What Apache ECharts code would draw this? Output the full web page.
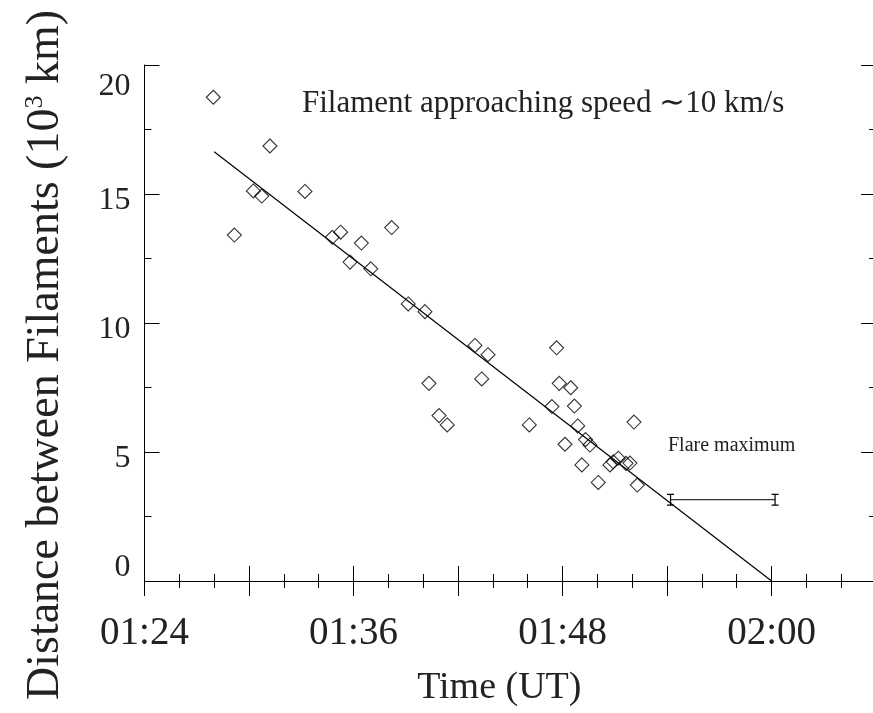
<!DOCTYPE html>
<html><head><meta charset="utf-8">
<script src="https://cdn.jsdelivr.net/npm/echarts@6/dist/echarts.min.js"></script>
<style>html,body{margin:0;padding:0;background:#fff}#c{width:873px;height:713px}</style>
</head><body><div id="c"></div>
<script>
// observation times, minutes after 01:00 UT
const obsTime = [27.95, 29.16, 30.25, 30.73, 31.20, 33.21, 34.78, 35.26, 35.80, 36.45,
  36.99, 38.19, 39.14, 40.10, 40.33, 40.91, 41.38, 42.97, 43.36, 43.72,
  46.09, 47.39, 47.66, 47.81, 48.14, 48.47, 48.68, 48.87, 49.11, 49.32,
  49.57, 50.05, 50.72, 50.91, 51.20, 51.64, 51.87, 52.10, 52.29];
// distance between filaments, 10^3 km
const obsDist = [18.75, 13.41, 15.12, 14.92, 16.86, 15.10, 13.32, 13.52, 12.36, 13.10,
  12.10, 13.70, 10.74, 10.44, 7.66, 6.41, 6.05, 9.13, 7.83, 8.77,
  6.05, 6.76, 9.04, 7.66, 5.30, 7.49, 6.78, 6.01, 4.50, 5.48,
  5.27, 3.82, 4.50, 4.62, 4.76, 4.56, 4.57, 6.16, 3.72];
// linear fit
const fitTime = [28.0, 60.0];
const fitDist = [16.64, 0];
// flare maximum interval
const flareTime = [54.2, 60.2];
const flareLevel = [3.15, 3.15];
const xTickLabels = ['01:24', '01:36', '01:48', '02:00'];
const yTickLabels = ['0', '5', '10', '15', '20'];
const titleText = 'Filament approaching speed \u223c10 km/s';
const flareText = 'Flare maximum';

const FONT = 'Liberation Serif';
function fmtTime(v) {
  const h = 1 + Math.floor(v / 60), m = Math.round(v % 60);
  const s = String(h).padStart(2, '0') + ':' + String(m).padStart(2, '0');
  return xTickLabels.includes(s) ? s : '';
}
function fmtY(v) {
  const s = String(v);
  if (!yTickLabels.includes(s)) return '';
  if (v === 20) return '{t|' + s + '}';
  if (v === 0) return '{b|' + s + '}';
  return '{m|' + s + '}';
}

const chart = echarts.init(document.getElementById('c'), null, {renderer: 'canvas'});
const axisCommon = {
  axisLine: {show: true, lineStyle: {color: '#000', width: 1}},
  axisTick: {show: true, inside: true, length: 15, lineStyle: {color: '#000', width: 1}},
  minorTick: {show: true, length: 7, lineStyle: {color: '#000', width: 1}},
  splitLine: {show: false}, minorSplitLine: {show: false}
};
const Iicon = 'path://M0,0H7V1.2H4.1V10.8H7V12H0V10.8H2.9V1.2H0Z';
chart.setOption({
  animation: false,
  backgroundColor: '#fff',
  title: [
    {text: titleText, left: 302, top: 88, padding: 0,
     textStyle: {fontFamily: FONT, fontSize: 31, fontWeight: 'normal', color: '#222'}},
    {text: flareText, left: 668, top: 436, padding: 0,
     textStyle: {fontFamily: FONT, fontSize: 20, fontWeight: 'normal', color: '#222'}}
  ],
  grid: {left: 144.5, right: -3.1, top: 65, bottom: 132, outerBoundsMode: 'none', containLabel: false},
  xAxis: [
    Object.assign({type: 'value', min: 24, max: 66, interval: 6, position: 'bottom',
      name: 'Time (UT)', nameLocation: 'middle', nameGap: 88,
      nameTextStyle: {fontFamily: FONT, fontSize: 38, color: '#222', padding: [0, 22, 0, 0]},
      axisLabel: {formatter: fmtTime, fontFamily: FONT, fontSize: 39, color: '#222', margin: 33}
    }, axisCommon, {minorTick: Object.assign({}, axisCommon.minorTick, {splitNumber: 3})}),
    Object.assign({type: 'value', min: 24, max: 66, interval: 6, position: 'top',
      axisLabel: {show: false}}, axisCommon,
      {minorTick: Object.assign({}, axisCommon.minorTick, {splitNumber: 3})})
  ],
  yAxis: [
    Object.assign({type: 'value', min: 0, max: 20, interval: 5, position: 'left',
      name: '{n|Distance between Filaments (10}{s|3}{n| km)}', nameLocation: 'middle', nameGap: 76,
      nameTextStyle: {fontFamily: FONT, fontSize: 46, color: '#222', padding: [0, 64, 0, 0],
        rich: {n: {fontFamily: FONT, fontSize: 46, color: '#222'},
               s: {fontFamily: FONT, fontSize: 26, color: '#222', verticalAlign: 'top', lineHeight: 46}}},
      axisLabel: {formatter: fmtY, fontFamily: FONT, fontSize: 32, color: '#222', margin: 14,
        verticalAlignMinLabel: 'bottom', verticalAlignMaxLabel: 'top',
        rich: {m: {fontFamily: FONT, fontSize: 32, color: '#222', padding: [13, 0, 0, 0]},
               t: {fontFamily: FONT, fontSize: 32, color: '#222', padding: [6, 0, 0, 0]},
               b: {fontFamily: FONT, fontSize: 32, color: '#222', lineHeight: 26}}}
    }, axisCommon, {minorTick: Object.assign({}, axisCommon.minorTick, {splitNumber: 2})}),
    Object.assign({type: 'value', min: 0, max: 20, interval: 5, position: 'right',
      axisLabel: {show: false}}, axisCommon,
      {minorTick: Object.assign({}, axisCommon.minorTick, {splitNumber: 2})})
  ],
  series: [
    {type: 'line', data: fitTime.map((t, i) => [t, fitDist[i]]), showSymbol: false,
     lineStyle: {color: '#000', width: 1.2}, silent: true, z: 2},
    {type: 'line', data: flareTime.map((t, i) => [t, flareLevel[i]]), symbol: Iicon,
     symbolSize: [7, 12], showSymbol: true, showAllSymbol: true,
     itemStyle: {color: '#000'}, lineStyle: {color: '#000', width: 1}, silent: true, z: 2},
    {type: 'scatter', data: obsTime.map((t, i) => [t, obsDist[i]]), symbol: 'diamond',
     symbolSize: 14, itemStyle: {color: 'rgba(0,0,0,0)', borderColor: '#000', borderWidth: 1.1}, z: 3}
  ]
});
</script></body></html>
